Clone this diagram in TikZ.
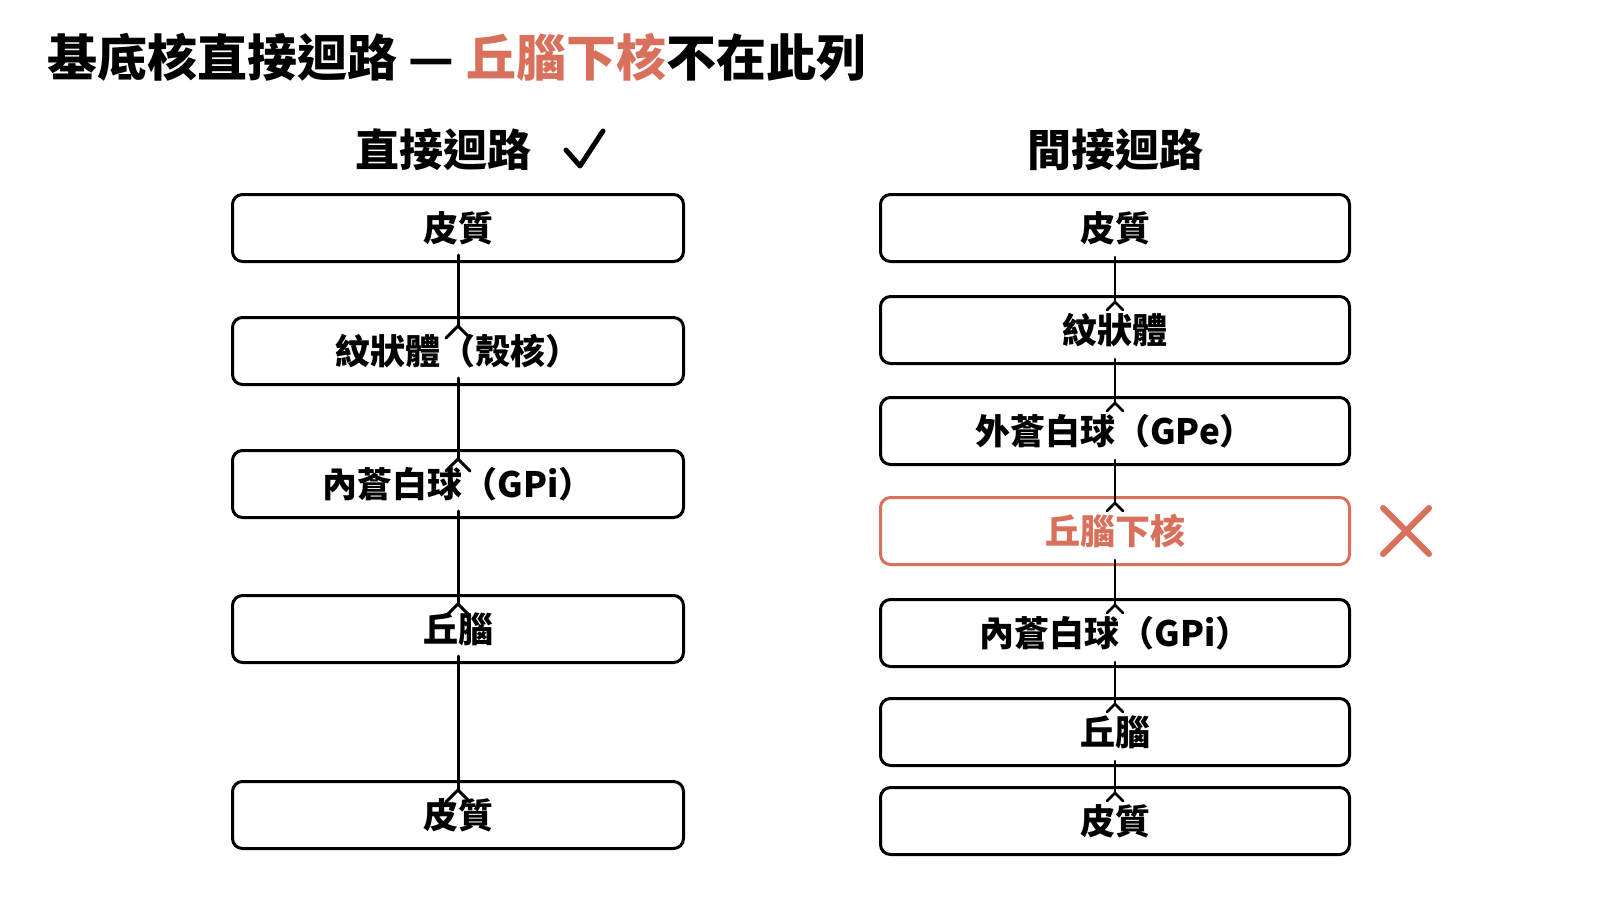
\documentclass[tikz,border=0pt]{standalone}
\usepackage{fontspec}
\setmainfont{Noto Sans CJK TC}
\definecolor{red1}{HTML}{D9705C}
\begin{document}
\begin{tikzpicture}[x=1pt,y=-1pt,
 box/.style={draw=black,line width=3pt,rounded corners=10pt,minimum height=67pt,inner sep=0pt,font=\fontsize{35}{40}\selectfont\bfseries},
 lbox/.style={box,minimum width=451pt},
 rbox/.style={box,minimum width=469pt},
 arr/.style={-{Stealth[length=0pt]},line width=3pt},
 ar/.style={line width=3pt,line cap=round,line join=round}]
\useasboundingbox (0,0) rectangle (1600,900);
\node[anchor=west,font=\fontsize{50}{56}\selectfont\bfseries] (title) at (44,57) {基底核直接迴路 — \textcolor{red1}{丘腦下核}不在此列};
\node[font=\fontsize{44}{50}\selectfont\bfseries] (hl) at (443,150) {直接迴路};
\draw[ar,line width=5pt] (566,150) -- (580,166) -- (603,131);
\node[font=\fontsize{44}{50}\selectfont\bfseries] (hr) at (1115,150) {間接迴路};
% left
\node[lbox] (l1) at (458,228) {皮質};
\node[lbox] (l2) at (458,351) {紋狀體（殼核）};
\node[lbox] (l3) at (458,484) {內蒼白球（GPi）};
\node[lbox] (l4) at (458,629) {丘腦};
\node[lbox] (l5) at (458,815) {皮質};
% right
\node[rbox] (r1) at (1115,228) {皮質};
\node[rbox] (r2) at (1115,330) {紋狀體};
\node[rbox] (r3) at (1115,431) {外蒼白球（GPe）};
\node[rbox,draw=red1,text=red1] (r4) at (1115,531) {丘腦下核};
\node[rbox] (r5) at (1115,633) {內蒼白球（GPi）};
\node[rbox] (r6) at (1115,732) {丘腦};
\node[rbox] (r7) at (1115,821) {皮質};
\draw[ar,red1,line width=6pt] (1383,508) -- (1429,554) (1429,508) -- (1383,554);
% arrows
\foreach \a/\b in {l1/l2,l2/l3,l3/l4,l4/l5}{
 \draw[ar] ([yshift=8pt]\a.south) -- ([yshift=-10pt]\b.north);
 \draw[ar] ([yshift=-22pt,xshift=-12pt]\b.north) -- ([yshift=-10pt]\b.north) -- ([yshift=-22pt,xshift=12pt]\b.north);
}
\foreach \a/\b in {r1/r2,r2/r3,r3/r4,r4/r5,r5/r6,r6/r7}{
 \draw[ar,line width=2.6pt] ([yshift=6pt]\a.south) -- ([yshift=-7pt]\b.north);
 \draw[ar,line width=2.6pt] ([yshift=-15pt,xshift=-8pt]\b.north) -- ([yshift=-7pt]\b.north) -- ([yshift=-15pt,xshift=8pt]\b.north);
}
\end{tikzpicture}
\end{document}
